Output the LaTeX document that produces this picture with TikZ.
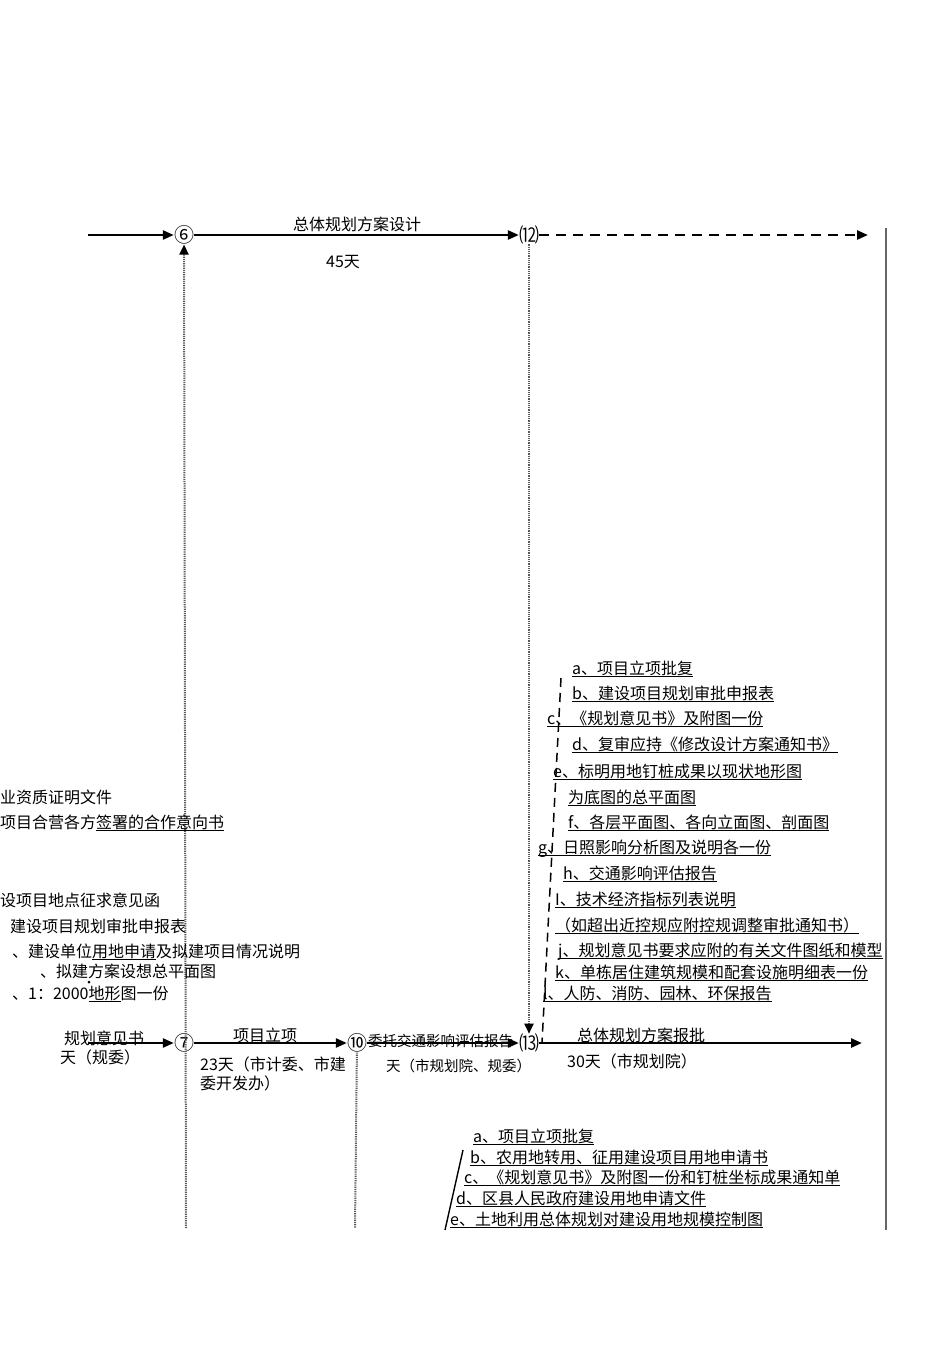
\documentclass[tikz,border=0pt]{standalone}
\usepackage{fontspec}
\setmainfont{Noto Sans CJK SC}
\usetikzlibrary{arrows.meta}
\tikzset{
    mynode/.style = {inner sep=0pt,font=\fontsize{20}{20}\selectfont},
    mytext/.style = {anchor=base west,inner sep=0pt,font=\fontsize{16}{19}\selectfont},
    mytextc/.style = {anchor=base,inner sep=0pt,font=\fontsize{16}{19}\selectfont},
    mytexts/.style = {anchor=base west,inner sep=0pt,font=\fontsize{14.5}{17}\selectfont},
    edgen/.style = {-{Triangle[length=11pt,width=9pt]},line width=2.4pt,black},
    edged/.style = {edgen,dash pattern=on 10pt off 7pt}, % dashed arrow
    edgeg/.style = {line width=2pt,gray!70!black,dash pattern=on 1.2pt off 1pt}, % dotted
    edgega/.style = {edgeg,-{Triangle[length=10pt,width=9pt,color=black]}},
    edgevd/.style = {line width=1.5pt,black,dash pattern=on 9pt off 6pt},
    edgel/.style = {line width=1.4pt,black},
    edger/.style = {line width=1.2pt,gray!80!black},
    ulin/.style = {line width=1pt,black}
}
\newcommand{\Ul}[1]{\setbox0\hbox{#1}\rlap{\rule[-3pt]{\wd0}{1.1pt}}\box0}

\begin{document}
\begin{tikzpicture}[x=1pt,y=-1pt]
\useasboundingbox (0,0) rectangle (950,1345);
% nodes of the chain
\node[mynode] at (184, 235) (n6) {⑥};
\node[mynode] at (529, 235) (n12) {⑿};
\node[mynode] at (184, 1043) (n7) {⑦};
\node[mynode] at (357, 1043) (n10) {⑩};
\node[mynode] at (529, 1043) (n13) {⒀};
\coordinate (s6) at (88, 235);
\coordinate (e12) at (868, 235);
\coordinate (s7) at (88, 1043);
\coordinate (e13) at (862, 1043);
\coordinate (b6) at (186, 1228);
\coordinate (b10) at (355, 1228);
\coordinate (r1) at (886, 228);
\coordinate (r2) at (886, 1230);
\coordinate (d1) at (561, 678);
\coordinate (d2) at (542, 1043);
\coordinate (l1) at (463, 1150);
\coordinate (l2) at (445, 1230);

\draw[edgen] (s6) -- (n6);
\draw[edgen] (n6) -- (n12);
\draw[edged] (n12) -- (e12);
\draw[edgen] (s7) -- (n7);
\draw[edgen] (n7) -- (n10);
\draw[edgen] (n10) -- (n13);
\draw[edgen] (n13) -- (e13);

\draw[edgega] (b6) -- (n6);
\draw[edgega] (n12) -- (n13);
\draw[edgeg] (n10) -- (b10);
\draw[edger] (r1) -- (r2);
\draw[edgevd] (d1) -- (d2);
\draw[edgel] (l1) -- (l2);

% labels on the chain
\node[mytextc] at (357, 230) (t1) {总体规划方案设计};
\node[mytextc] at (343, 267) (t2) {45天};
\node[mytext] at (64, 1044) (t3) {规划意见书};
\node[mytext] at (60, 1063) (t4) {天（规委）};
\node[mytextc] at (265, 1041) (t5) {项目立项};
\node[mytext] at (200, 1070) (t6) {23天（市计委、市建};
\node[mytext] at (200, 1089) (t7) {委开发办）};
\node[mytexts] at (368, 1046) (t8) {委托交通影响评估报告};
\node[mytexts] at (386, 1071) (t9) {天（市规划院、规委）};
\node[mytext] at (577, 1041) (t10) {总体规划方案报批};
\node[mytext] at (567, 1067) (t11) {30天（市规划院）};

% list on the right
\node[mytext] at (572, 674) (a1) {\Ul{a、项目立项批复}};
\node[mytext] at (572, 699) (a2) {\Ul{b、建设项目规划审批申报表}};
\node[mytext] at (547, 724) (a3) {\Ul{c、《规划意见书》及附图一份}};
\node[mytext] at (572, 750) (a4) {\Ul{d、复审应持《修改设计方案通知书》}};
\node[mytext] at (553, 777) (a5) {\Ul{e、标明用地钉桩成果以现状地形图}};
\node[mytext] at (568, 803) (a6) {\Ul{为底图的总平面图}};
\node[mytext] at (568, 828) (a7) {\Ul{f、各层平面图、各向立面图、剖面图}};
\node[mytext] at (538, 853) (a8) {\Ul{g、日照影响分析图及说明各一份}};
\node[mytext] at (563, 879) (a9) {\Ul{h、交通影响评估报告}};
\node[mytext] at (555, 905) (a10) {\Ul{I、技术经济指标列表说明}};
\node[mytext] at (555, 931) (a11) {\Ul{（如超出近控规应附控规调整审批通知书）}};
\node[mytext] at (558, 956) (a12) {\Ul{j、规划意见书要求应附的有关文件图纸和模型}};
\node[mytext] at (555, 978) (a13) {\Ul{k、单栋居住建筑规模和配套设施明细表一份}};
\node[mytext] at (543, 999) (a14) {\Ul{l、人防、消防、园林、环保报告}};

% list on the left
\node[mytext] at (0, 803) (c1) {业资质证明文件};
\node[mytext] at (0, 828) (c2) {项目合营各方\Ul{签署的合作意向书}};
\node[mytext] at (0, 906) (c3) {设项目地点征求意见函};
\node[mytext] at (10, 932) (c4) {建设项目规划审批申报表};
\node[mytext] at (12, 957) (c5) {、建设单位\Ul{用地申请}及拟建项目情况说明};
\node[mytext] at (40, 977) (c6) {、拟建方案设想总平面图};
\node[mytext] at (12, 999) (c7) {、1：2000\Ul{地形}图一份};
\fill (89, 982) circle (1.5pt);

% list at the bottom
\node[mytext] at (473, 1142) (b1) {\Ul{a、项目立项批复}};
\node[mytext] at (470, 1163) (b2) {\Ul{b、农用地转用、征用建设项目用地申请书}};
\node[mytext] at (464, 1183) (b3) {\Ul{c、《规划意见书》及附图一份和钉桩坐标成果通知单}};
\node[mytext] at (456, 1204) (b4) {\Ul{d、区县人民政府建设用地申请文件}};
\node[mytext] at (450, 1225) (b5) {\Ul{e、土地利用总体规划对建设用地规模控制图}};

\end{tikzpicture}
\end{document}
